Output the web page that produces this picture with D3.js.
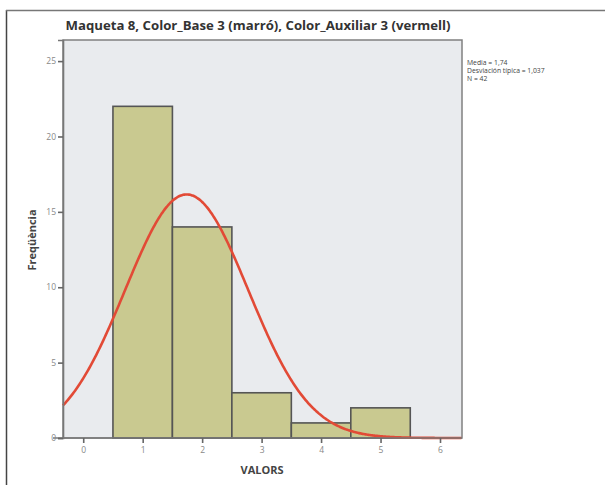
<!DOCTYPE html>
<html><head><meta charset="utf-8">
<script src="https://cdn.jsdelivr.net/npm/d3@7"></script>
<style>body{margin:0;background:#fff;}svg{display:block;}</style>
</head><body>
<script>
const binCenters = [1, 2, 3, 4, 5];
const frequencies = [22, 14, 3, 1, 2];
const xTicks = [0, 1, 2, 3, 4, 5, 6];
const yTicks = [0, 5, 10, 15, 20, 25];
const stats = {mean: 1.74, sd: 1.037, n: 42};
const statLabels = ["Media = 1,74", "Desviación típica = 1,037", "N = 42"];
const title = "Maqueta 8, Color_Base 3 (marró), Color_Auxiliar 3 (vermell)";

const W = 605, H = 485;
const m = {left: 63, right: 143, top: 40, bottom: 47};
const svg = d3.select("body").append("svg").attr("width", W).attr("height", H);

// outer frame
svg.append("line").attr("x1", 6.5).attr("x2", 6.5).attr("y1", 10).attr("y2", H).attr("stroke", "#444").attr("stroke-width", 1.5);
svg.append("line").attr("x1", 6).attr("x2", W).attr("y1", 10.5).attr("y2", 10.5).attr("stroke", "#777").attr("stroke-width", 1.5);

const x = d3.scaleLinear().domain([-0.34, 6.37]).range([m.left, W - m.right]);
const y = d3.scaleLinear().domain([0, 26.4]).range([H - m.bottom, m.top]);

svg.append("rect").attr("x", m.left).attr("y", m.top)
  .attr("width", W - m.right - m.left).attr("height", H - m.bottom - m.top)
  .attr("fill", "#e9ebee").attr("stroke", "#808080").attr("stroke-width", 1.5);

svg.append("g").selectAll("rect").data(binCenters).join("rect")
  .attr("x", d => x(d - 0.5)).attr("width", d => x(d + 0.5) - x(d - 0.5))
  .attr("y", (d, i) => y(frequencies[i])).attr("height", (d, i) => y(0) - y(frequencies[i]))
  .attr("fill", "#c9c990").attr("stroke", "#555").attr("stroke-width", 1.6);

// fitted normal curve from mean/sd/N (bin width 1)
const xs = d3.range(x.domain()[0], x.domain()[1] + 0.001, 0.02);
const pdf = v => stats.n / (stats.sd * Math.sqrt(2 * Math.PI)) * Math.exp(-0.5 * Math.pow((v - stats.mean) / stats.sd, 2));
svg.append("path").datum(xs)
  .attr("d", d3.line().x(d => x(d)).y(d => y(pdf(d))).curve(d3.curveBasis))
  .attr("fill", "none").attr("stroke", "#e24a36").attr("stroke-width", 2.6);

// axes
const xAxis = svg.append("g").attr("transform", `translate(0,${H - m.bottom})`)
  .call(d3.axisBottom(x).tickValues(xTicks).tickFormat(d3.format("d")).tickSize(5).tickPadding(4));
const yAxis = svg.append("g").attr("transform", `translate(${m.left},0)`)
  .call(d3.axisLeft(y).tickValues(yTicks).tickFormat(d3.format("d")).tickSize(5).tickPadding(2));
[xAxis, yAxis].forEach(g => {
  g.select(".domain").attr("stroke", "#777").attr("stroke-width", 1.6);
  g.selectAll(".tick line").attr("stroke", "#666").attr("stroke-width", 1.6);
  g.selectAll(".tick text").attr("fill", "#888").attr("font-family", "Open Sans, sans-serif").attr("font-size", 8.5);
});
xAxis.select(".domain").attr("d", `M${m.left - 10},0H${W - m.right}`);

svg.append("text").attr("x", 258).attr("y", 30).attr("text-anchor", "middle")
  .attr("font-family", "Open Sans, sans-serif").attr("font-weight", "bold").attr("font-size", 13.2)
  .attr("fill", "#333").text(title);

svg.append("text").attr("x", 262).attr("y", 474).attr("text-anchor", "middle")
  .attr("font-family", "Open Sans, sans-serif").attr("font-weight", "bold").attr("font-size", 11)
  .attr("fill", "#444").text("VALORS");

svg.append("text").attr("transform", "translate(36,240) rotate(-90)").attr("text-anchor", "middle")
  .attr("font-family", "Open Sans, sans-serif").attr("font-weight", "bold").attr("font-size", 11)
  .attr("fill", "#444").text("Freqüència");

svg.append("g").selectAll("text").data(statLabels).join("text")
  .attr("x", 467).attr("y", (d, i) => 65 + i * 8)
  .attr("font-family", "Open Sans, sans-serif").attr("font-size", 6.8).attr("fill", "#444").text(d => d);
</script>
</body></html>
